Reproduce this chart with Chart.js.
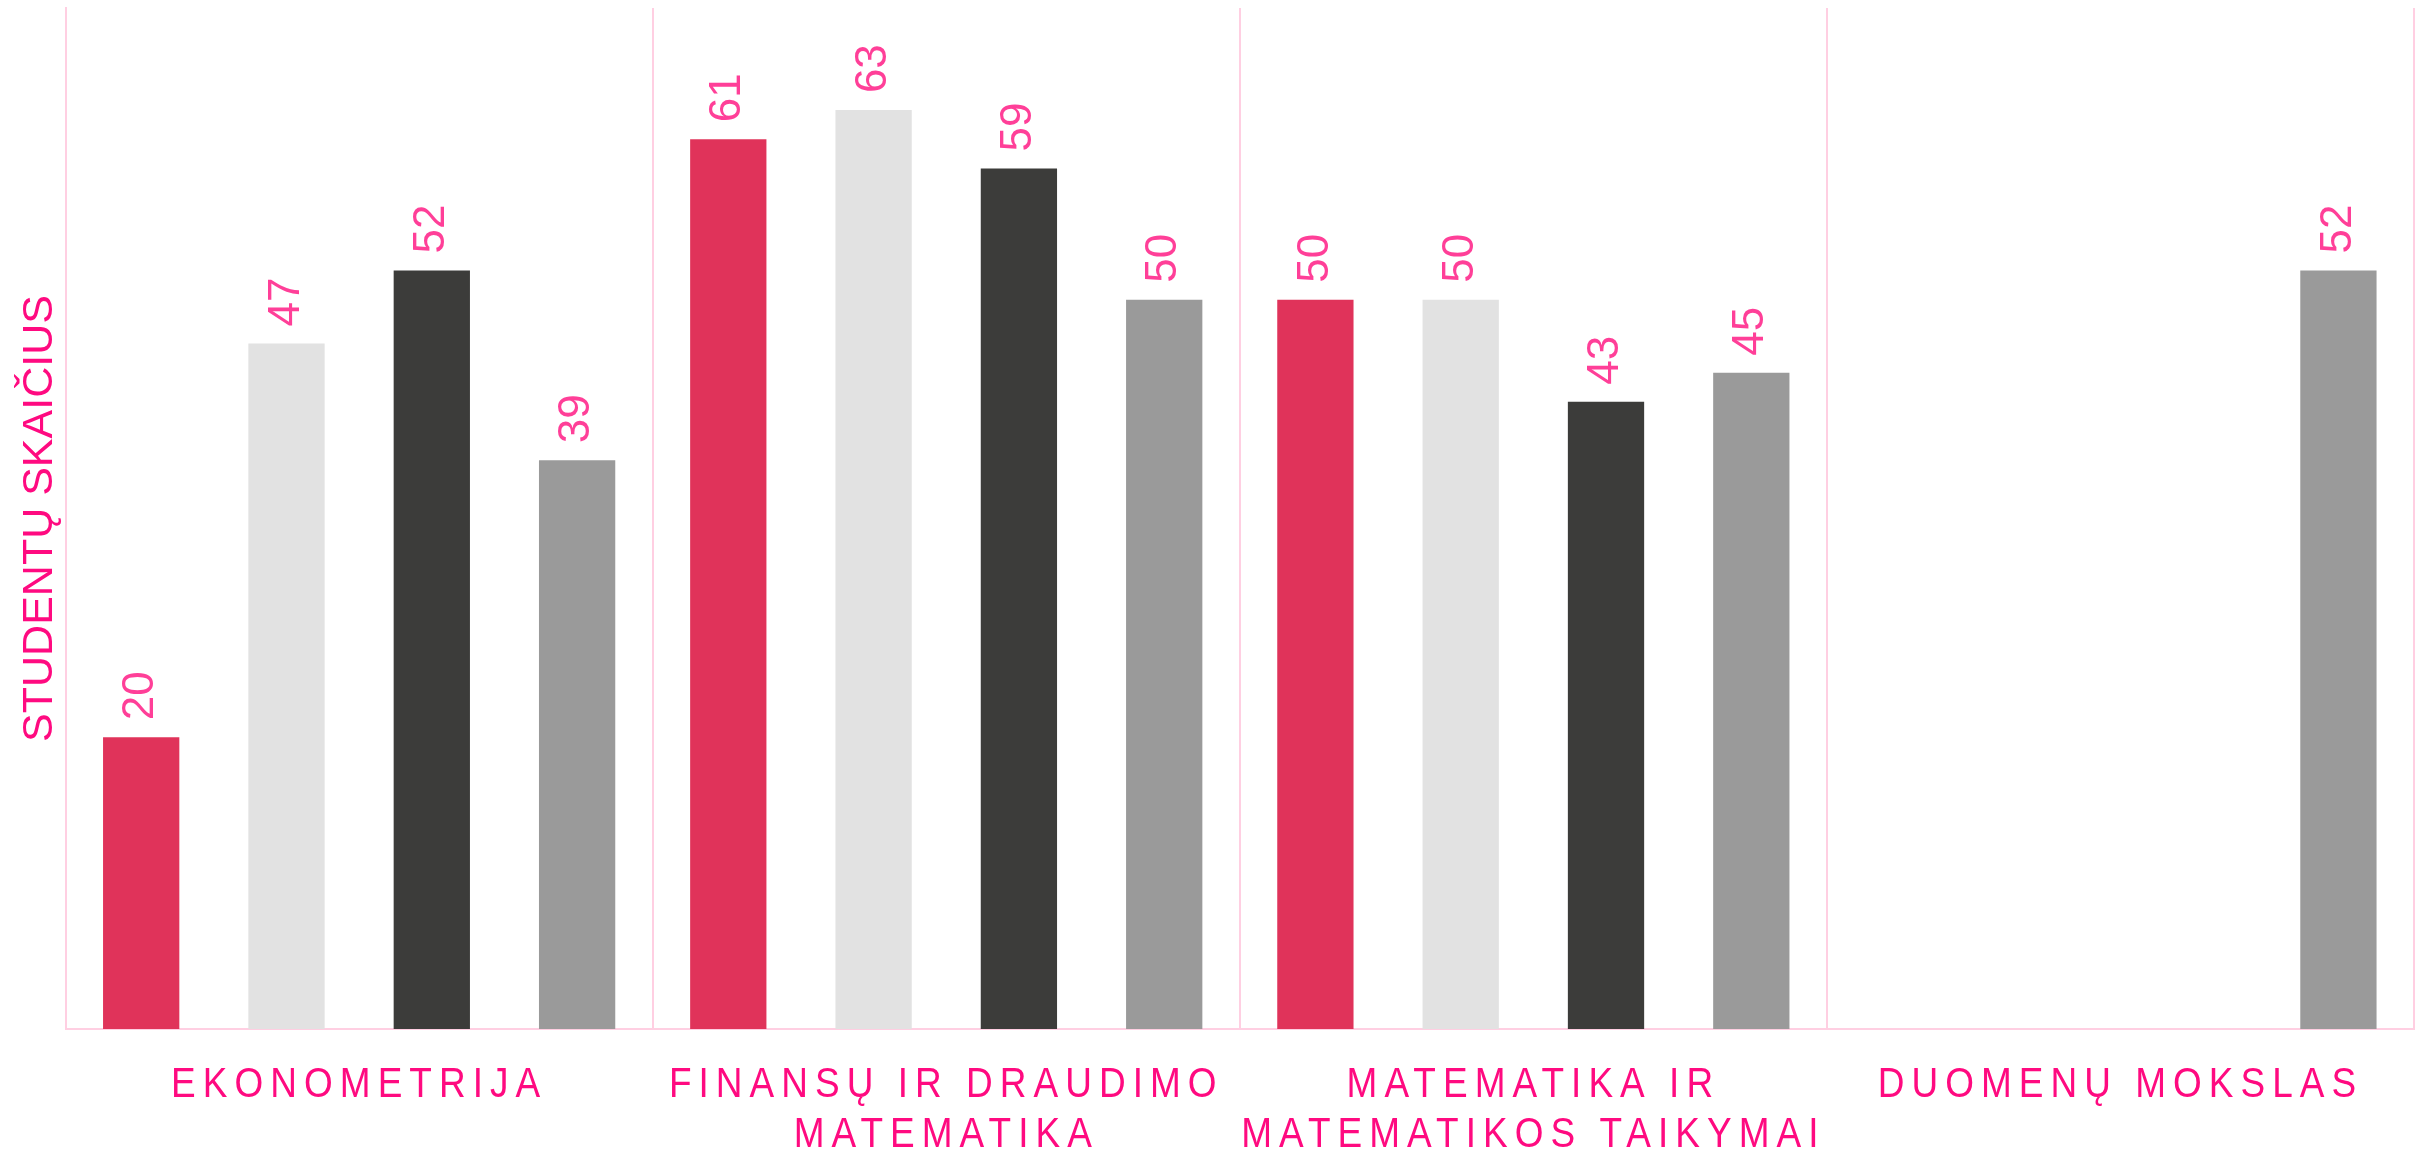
<!DOCTYPE html>
<html>
<head>
<meta charset="utf-8">
<script src="https://cdn.jsdelivr.net/npm/chart.js@4"></script>
<style>
  html, body { margin: 0; padding: 0; background: #ffffff; }
  #wrap { width: 2422px; height: 1149px; }
</style>
</head>
<body>
<div id="wrap"><canvas id="chart"></canvas></div>
<script>
'use strict';

const categories = [
  'EKONOMETRIJA',
  ['FINANSŲ IR DRAUDIMO', 'MATEMATIKA'],
  ['MATEMATIKA IR', 'MATEMATIKOS TAIKYMAI'],
  'DUOMENŲ MOKSLAS'
];
const series1 = [20, 61, 50, null];
const series2 = [47, 63, 50, null];
const series3 = [52, 59, 43, null];
const series4 = [39, 50, 45, 52];
const seriesColors = ['#e0335a', '#e2e2e2', '#3c3c3a', '#9a9a9a'];
const yTitle = 'STUDENTŲ SKAIČIUS';

const pink = '#ff0a80';
const labelPink = '#ff3f98';
const gridPink = '#ffcfe2';

// rotated value labels above the bars
const valueLabels = {
  id: 'valueLabels',
  afterDatasetsDraw(chart) {
    const ctx = chart.ctx;
    ctx.save();
    ctx.font = '44px "Liberation Sans", Arial, sans-serif';
    ctx.fillStyle = labelPink;
    ctx.textAlign = 'left';
    ctx.textBaseline = 'middle';
    chart.data.datasets.forEach((ds, i) => {
      const meta = chart.getDatasetMeta(i);
      meta.data.forEach((bar, j) => {
        const v = ds.data[j];
        if (v === null || v === undefined) return;
        ctx.save();
        ctx.translate(bar.x, bar.y - 17);
        ctx.rotate(-Math.PI / 2);
        ctx.fillText(String(v), 0, 0);
        ctx.restore();
      });
    });
    ctx.restore();
  }
};

// condensed, spaced-out category labels
const spacedTicks = {
  id: 'spacedTicks',
  afterLayout(chart) {
    const scale = chart.scales.x;
    if (scale._spaced) return;
    const orig = scale.drawLabels;
    scale.drawLabels = function (area) {
      const c = this.ctx;
      const fill = c.fillText;
      c.save();
      c.letterSpacing = '8px';
      c.fillText = function (text, x, y) {
        this.save();
        this.translate(x, y);
        this.scale(0.88, 1);
        fill.call(this, text, 0, 0);
        this.restore();
      };
      orig.call(this, area);
      delete c.fillText;
      c.restore();
    };
    scale._spaced = true;
  }
};

const config = {
  type: 'bar',
  data: {
    labels: categories,
    datasets: [series1, series2, series3, series4].map((d, i) => ({
      label: 'S' + (i + 1),
      data: d,
      backgroundColor: seriesColors[i],
      borderWidth: 0,
      categoryPercentage: 0.99,
      barPercentage: 0.525
    }))
  },
  options: {
    responsive: true,
    maintainAspectRatio: false,
    animation: false,
    layout: { padding: { left: 10, right: 8, top: 8, bottom: 0 } },
    plugins: {
      legend: { display: false },
      tooltip: { enabled: false }
    },
    scales: {
      x: {
        grid: { color: gridPink, lineWidth: 2, drawTicks: false },
        border: { color: gridPink, width: 2 },
        ticks: {
          color: pink,
          padding: 31,
          maxRotation: 0,
          autoSkip: false,
          font: { family: '"Liberation Sans", Arial, sans-serif', size: 42, lineHeight: 1.19 }
        },
        afterFit: s => { s.height = 120; }
      },
      y: {
        min: 0,
        max: 70,
        grid: { display: false, drawTicks: false },
        border: { color: gridPink, width: 2 },
        ticks: { display: false },
        title: {
          display: true,
          text: yTitle,
          color: pink,
          padding: { top: 4, bottom: 0 },
          font: { family: '"Liberation Sans", Arial, sans-serif', size: 43 }
        }
      }
    }
  },
  plugins: [valueLabels, spacedTicks]
};

const canvas = document.querySelector('#chart');
const chart = new Chart(canvas.getContext('2d'), config);
chart.draw();
</script>
</body>
</html>
